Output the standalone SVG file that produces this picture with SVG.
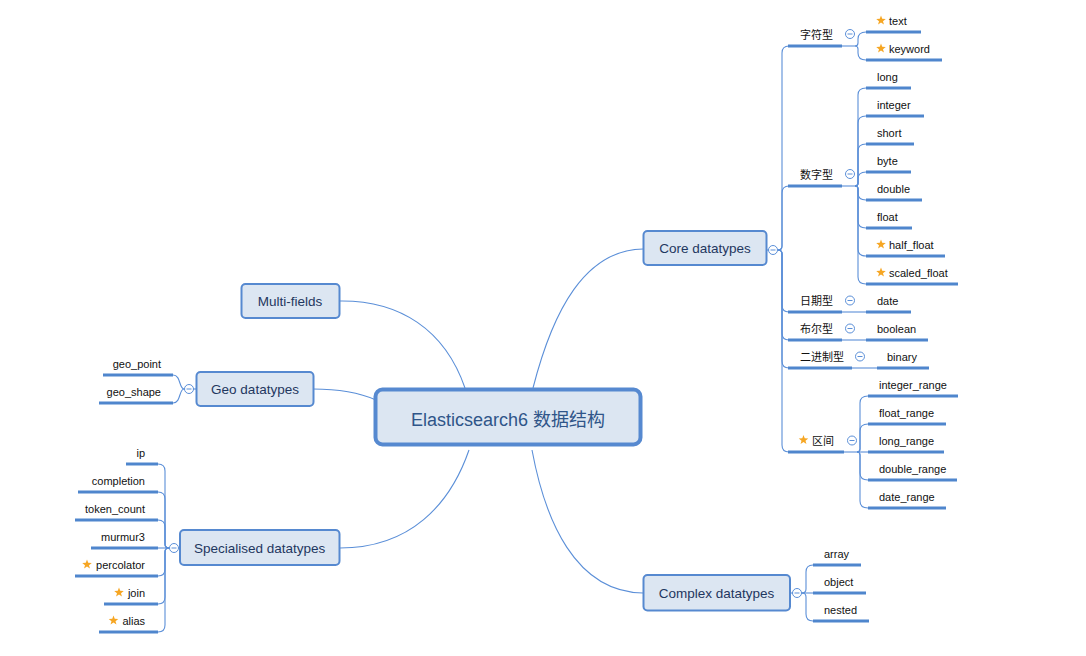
<svg xmlns="http://www.w3.org/2000/svg" xmlns:xlink="http://www.w3.org/1999/xlink" width="1086" height="656" viewBox="0 0 1086 656">
<style>
.bg{fill:#ffffff}
.node{fill:#dce6f2;stroke:#5689d0;stroke-width:2}
.root{fill:#dce6f2;stroke:#5689d0;stroke-width:4}
.nt{font-family:"Liberation Sans","Noto Sans CJK SC",sans-serif;font-size:13.5px;fill:#1f3760;text-anchor:middle}
.rt{font-family:"Liberation Sans","Noto Sans CJK SC",sans-serif;font-size:18px;fill:#2f5589;text-anchor:middle}
.lt{font-family:"Liberation Sans","Noto Sans CJK SC",sans-serif;font-size:11px;fill:#111}
.le{text-anchor:end}
.ul{stroke:#4f86cd;stroke-width:3;fill:none}
.cn{stroke:#5b8fd8;stroke-width:1.1;fill:none}
.star{fill:#f6a623}
.colc{fill:#fff;stroke:#5b8fd8;stroke-width:1}
.colm{stroke:#5b8fd8;stroke-width:1}
</style>
<defs>
<polygon id="star" class="star" points="0,-5 1.23,-1.7 4.76,-1.55 2,0.65 2.94,4.05 0,2.1 -2.94,4.05 -2,0.65 -4.76,-1.55 -1.23,-1.7"/>
<g id="col"><circle class="colc" r="4.5"/><line class="colm" x1="-2.5" y1="0" x2="2.5" y2="0"/></g>
</defs>
<rect class="bg" x="0" y="0" width="1086" height="656"/>

<g id="connectors">
<!-- root to main nodes -->
<path class="cn" d="M533,388 C553,310 585,250 643,249"/>
<path class="cn" d="M339,301 C400,300 445,330 465,388"/>
<path class="cn" d="M313,389 C340,389 358,392 376,400"/>
<path class="cn" d="M340,548 C410,548 450,505 469,450"/>
<path class="cn" d="M532,450 C545,520 575,592 643,593"/>
<!-- core to sub branches -->
<path class="cn" d="M767,250 H778"/>
<path class="cn" d="M778,250 Q782,250 782,246 L782,53 Q782,46 789,46"/>
<path class="cn" d="M778,250 Q782,250 782,246 L782,193 Q782,186 789,186"/>
<path class="cn" d="M778,250 Q782,250 782,254 L782,305 Q782,312 789,312"/>
<path class="cn" d="M778,250 Q782,250 782,254 L782,333 Q782,340 789,340"/>
<path class="cn" d="M778,250 Q782,250 782,254 L782,361 Q782,368 789,368"/>
<path class="cn" d="M778,250 Q782,250 782,254 L782,445 Q782,452 789,452"/>
<!-- 字符型 -->
<path class="cn" d="M842,46 H855"/>
<path class="cn" d="M855,46 Q858,46 858,43 L858,39 Q858,32 866,32"/>
<path class="cn" d="M855,46 Q858,46 858,49 L858,53 Q858,60 866,60"/>
<!-- 数字型 -->
<path class="cn" d="M842,186 H855"/>
<path class="cn" d="M855,186 Q858,186 858,183 L858,95 Q858,88 866,88"/>
<path class="cn" d="M855,186 Q858,186 858,183 L858,123 Q858,116 866,116"/>
<path class="cn" d="M855,186 Q858,186 858,183 L858,151 Q858,144 866,144"/>
<path class="cn" d="M855,186 Q858,186 858,183 L858,179 Q858,172 866,172"/>
<path class="cn" d="M855,186 Q858,186 858,189 L858,193 Q858,200 866,200"/>
<path class="cn" d="M855,186 Q858,186 858,189 L858,221 Q858,228 866,228"/>
<path class="cn" d="M855,186 Q858,186 858,189 L858,249 Q858,256 866,256"/>
<path class="cn" d="M855,186 Q858,186 858,189 L858,277 Q858,284 866,284"/>
<!-- 日期 布尔 二进制 -->
<path class="cn" d="M842,312 H866"/>
<path class="cn" d="M842,340 H866"/>
<path class="cn" d="M852,368 H877"/>
<!-- 区间 -->
<path class="cn" d="M844,452 H868"/>
<path class="cn" d="M857,452 Q860,452 860,449 L860,403 Q860,396 868,396"/>
<path class="cn" d="M857,452 Q860,452 860,449 L860,431 Q860,424 868,424"/>
<path class="cn" d="M857,452 Q860,452 860,455 L860,473 Q860,480 868,480"/>
<path class="cn" d="M857,452 Q860,452 860,455 L860,501 Q860,508 868,508"/>
<!-- complex -->
<path class="cn" d="M790,593 H813"/>
<path class="cn" d="M802,593 Q806,593 806,589 L806,572 Q806,565 813,565"/>
<path class="cn" d="M802,593 Q806,593 806,597 L806,614 Q806,621 813,621"/>
<!-- specialised -->
<path class="cn" d="M180,548 H158"/>
<path class="cn" d="M169,548 Q165,548 165,544 L165,471 Q165,464 158,464"/>
<path class="cn" d="M169,548 Q165,548 165,544 L165,499 Q165,492 158,492"/>
<path class="cn" d="M169,548 Q165,548 165,544 L165,527 Q165,520 158,520"/>
<path class="cn" d="M169,548 Q165,548 165,552 L165,569 Q165,576 158,576"/>
<path class="cn" d="M169,548 Q165,548 165,552 L165,597 Q165,604 158,604"/>
<path class="cn" d="M169,548 Q165,548 165,552 L165,625 Q165,632 158,632"/>
<!-- geo -->
<path class="cn" d="M196,389 H184"/>
<path class="cn" d="M184,389 C179,389 181,375 173,375"/>
<path class="cn" d="M184,389 C179,389 181,403 173,403"/>
</g>

<g id="root">
<rect class="root" x="375.5" y="389.5" width="265" height="55" rx="7"/>
<text class="rt" x="508" y="426">Elasticsearch6 数据结构</text>
</g>

<g id="core">
<rect class="node" x="643.5" y="231" width="123" height="34" rx="4"/>
<text class="nt" x="705" y="253">Core datatypes</text>
<use href="#col" x="773" y="250"/>
</g>

<g id="multi-fields">
<rect class="node" x="241.5" y="284" width="98" height="34" rx="4"/>
<text class="nt" x="290" y="306">Multi-fields</text>
</g>

<g id="geo">
<rect class="node" x="196.5" y="372" width="117" height="34" rx="4"/>
<text class="nt" x="255" y="394">Geo datatypes</text>
<use href="#col" x="189" y="389"/>
</g>

<g id="specialised">
<rect class="node" x="180" y="530" width="159.5" height="35" rx="4"/>
<text class="nt" x="259.7" y="552.5">Specialised datatypes</text>
<use href="#col" x="174" y="548"/>
</g>

<g id="complex">
<rect class="node" x="643.5" y="575" width="146.5" height="35.5" rx="4"/>
<text class="nt" x="716.5" y="597.5">Complex datatypes</text>
<use href="#col" x="797" y="593"/>
</g>

<!-- core sub-branches -->
<g id="zifu">
<path class="ul" d="M788,46 H842"/>
<text class="lt" x="800" y="39">字符型</text>
<use href="#col" x="850" y="34"/>
</g>
<g id="text">
<path class="ul" d="M866,32 H921"/>
<use href="#star" x="881" y="20.5"/>
<text class="lt" x="889" y="25">text</text>
</g>
<g id="keyword">
<path class="ul" d="M866,60 H942"/>
<use href="#star" x="881" y="48.5"/>
<text class="lt" x="889" y="53">keyword</text>
</g>

<g id="shuzi">
<path class="ul" d="M788,186 H842"/>
<text class="lt" x="800" y="179">数字型</text>
<use href="#col" x="850" y="174"/>
</g>
<g id="long"><path class="ul" d="M866,88 H911"/><text class="lt" x="877" y="81">long</text></g>
<g id="integer"><path class="ul" d="M866,116 H924"/><text class="lt" x="877" y="109">integer</text></g>
<g id="short"><path class="ul" d="M866,144 H914"/><text class="lt" x="877" y="137">short</text></g>
<g id="byte"><path class="ul" d="M866,172 H911"/><text class="lt" x="877" y="165">byte</text></g>
<g id="double"><path class="ul" d="M866,200 H922"/><text class="lt" x="877" y="193">double</text></g>
<g id="float"><path class="ul" d="M866,228 H912"/><text class="lt" x="877" y="221">float</text></g>
<g id="half_float"><path class="ul" d="M866,256 H945"/><use href="#star" x="881" y="244.5"/><text class="lt" x="889" y="249">half_float</text></g>
<g id="scaled_float"><path class="ul" d="M866,284 H958"/><use href="#star" x="881" y="272.5"/><text class="lt" x="889" y="277">scaled_float</text></g>

<g id="riqi">
<path class="ul" d="M788,312 H842"/>
<text class="lt" x="800" y="305">日期型</text>
<use href="#col" x="850" y="300.5"/>
</g>
<g id="date"><path class="ul" d="M866,312 H911"/><text class="lt" x="877" y="305">date</text></g>

<g id="buer">
<path class="ul" d="M788,340 H842"/>
<text class="lt" x="800" y="333">布尔型</text>
<use href="#col" x="850" y="328.5"/>
</g>
<g id="boolean"><path class="ul" d="M866,340 H928"/><text class="lt" x="877" y="333">boolean</text></g>

<g id="erjinzhi">
<path class="ul" d="M788,368 H852"/>
<text class="lt" x="800" y="361">二进制型</text>
<use href="#col" x="860" y="356.5"/>
</g>
<g id="binary"><path class="ul" d="M877,368 H929"/><text class="lt" x="887" y="361">binary</text></g>

<g id="qujian">
<path class="ul" d="M788,452 H844"/>
<use href="#star" x="803.5" y="440"/>
<text class="lt" x="812" y="445">区间</text>
<use href="#col" x="852" y="440.5"/>
</g>
<g id="integer_range"><path class="ul" d="M868,396 H958"/><text class="lt" x="879" y="389">integer_range</text></g>
<g id="float_range"><path class="ul" d="M868,424 H946"/><text class="lt" x="879" y="417">float_range</text></g>
<g id="long_range"><path class="ul" d="M868,452 H944"/><text class="lt" x="879" y="445">long_range</text></g>
<g id="double_range"><path class="ul" d="M868,480 H957"/><text class="lt" x="879" y="473">double_range</text></g>
<g id="date_range"><path class="ul" d="M868,508 H946"/><text class="lt" x="879" y="501">date_range</text></g>

<!-- complex children -->
<g id="array"><path class="ul" d="M813,565 H861"/><text class="lt" x="824" y="558">array</text></g>
<g id="object"><path class="ul" d="M813,593 H866"/><text class="lt" x="824" y="586">object</text></g>
<g id="nested"><path class="ul" d="M813,621 H869"/><text class="lt" x="824" y="614">nested</text></g>

<!-- specialised children -->
<g id="ip"><path class="ul" d="M126,464 H158"/><text class="lt le" x="145" y="457">ip</text></g>
<g id="completion"><path class="ul" d="M78,492 H158"/><text class="lt le" x="145" y="485">completion</text></g>
<g id="token_count"><path class="ul" d="M75,520 H158"/><text class="lt le" x="145" y="513">token_count</text></g>
<g id="murmur3"><path class="ul" d="M91,548 H158"/><text class="lt le" x="145" y="541">murmur3</text></g>
<g id="percolator"><path class="ul" d="M75,576 H158"/><use href="#star" x="87" y="564.5"/><text class="lt le" x="145" y="569">percolator</text></g>
<g id="join"><path class="ul" d="M104,604 H158"/><use href="#star" x="119" y="592.5"/><text class="lt le" x="145" y="597">join</text></g>
<g id="alias"><path class="ul" d="M99,632 H158"/><use href="#star" x="113.5" y="620.5"/><text class="lt le" x="145" y="625">alias</text></g>

<!-- geo children -->
<g id="geo_point"><path class="ul" d="M103,375 H173"/><text class="lt le" x="161" y="368">geo_point</text></g>
<g id="geo_shape"><path class="ul" d="M99,403 H173"/><text class="lt le" x="161" y="396">geo_shape</text></g>
</svg>
